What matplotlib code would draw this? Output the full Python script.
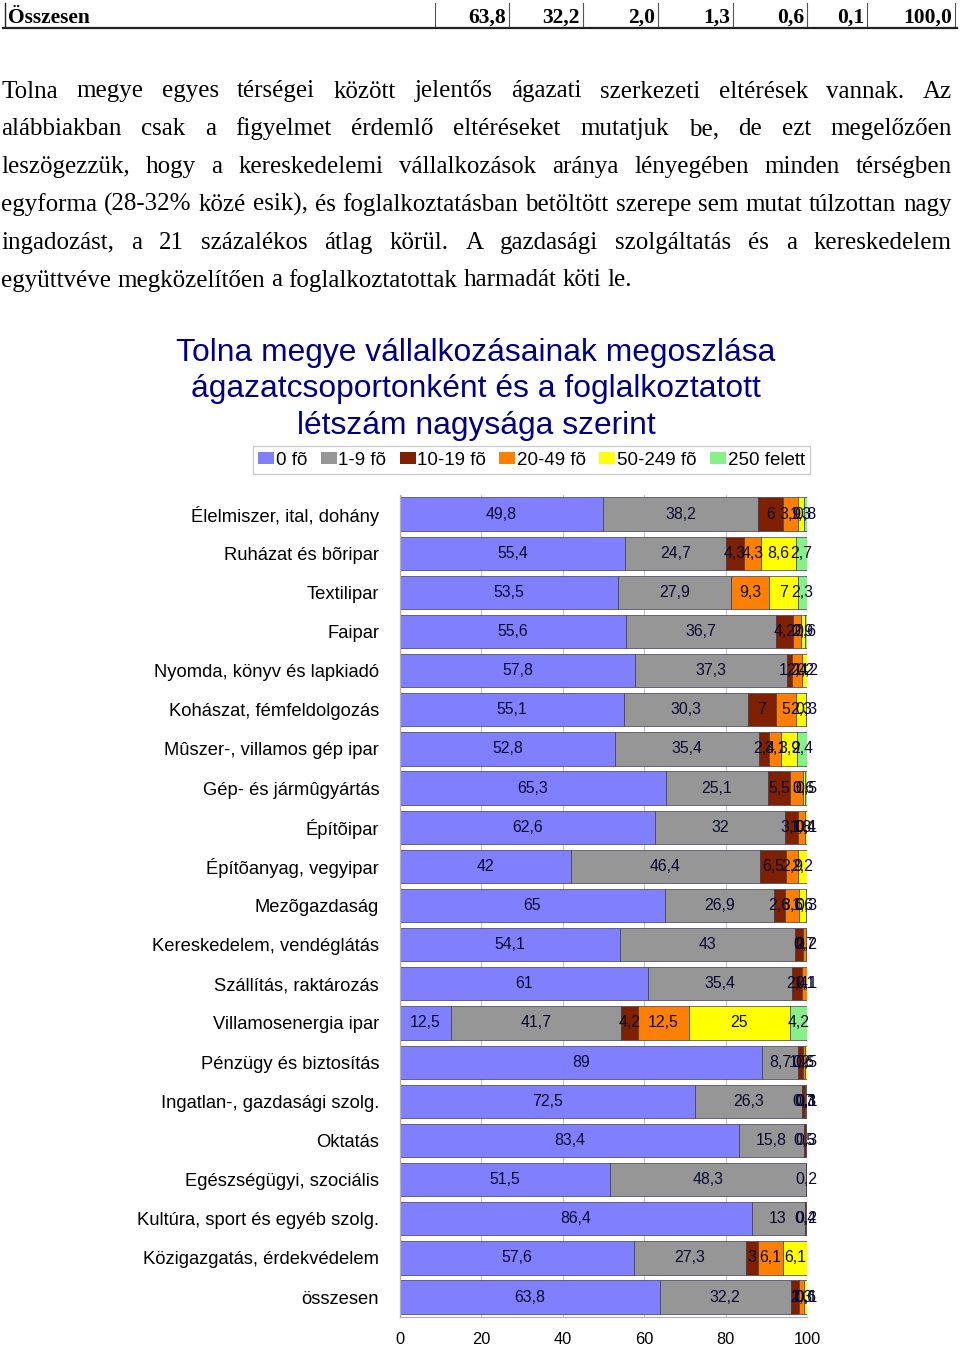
import matplotlib
matplotlib.use('Agg')
import matplotlib.pyplot as plt
from matplotlib.lines import Line2D
from matplotlib.patches import Patch
import numpy as np

# ---------------- data ----------------
categories = [
    "Élelmiszer, ital, dohány", "Ruházat és bõripar", "Textilipar", "Faipar",
    "Nyomda, könyv és lapkiadó", "Kohászat, fémfeldolgozás",
    "Mûszer-, villamos gép ipar", "Gép- és jármûgyártás", "Építõipar",
    "Építõanyag, vegyipar", "Mezõgazdaság", "Kereskedelem, vendéglátás",
    "Szállítás, raktározás", "Villamosenergia ipar", "Pénzügy és biztosítás",
    "Ingatlan-, gazdasági szolg.", "Oktatás", "Egészségügyi, szociális",
    "Kultúra, sport és egyéb szolg.", "Közigazgatás, érdekvédelem", "összesen",
]
series_names = ["0 fõ", "1-9 fõ", "10-19 fõ", "20-49 fõ", "50-249 fõ", "250 felett"]
s_0 = [49.8, 55.4, 53.5, 55.6, 57.8, 55.1, 52.8, 65.3, 62.6, 42, 65, 54.1, 61, 12.5, 89, 72.5, 83.4, 51.5, 86.4, 57.6, 63.8]
s_1_9 = [38.2, 24.7, 27.9, 36.7, 37.3, 30.3, 35.4, 25.1, 32, 46.4, 26.9, 43, 35.4, 41.7, 8.7, 26.3, 15.8, 48.3, 13, 27.3, 32.2]
s_10_19 = [6, 4.3, 0, 4.2, 1.2, 7, 2.4, 5.5, 3.1, 6.5, 2.6, 2.0, 2.4, 4.2, 1.2, 0.7, 0.5, 0.2, 0.4, 3, 2.0]
s_20_49 = [3.9, 4.3, 9.3, 2.0, 2.4, 5, 3.1, 3.0, 1.8, 2.9, 3.6, 0.7, 1.1, 12.5, 0.6, 0.3, 0.3, 0, 0.2, 6.1, 1.3]
s_50_249 = [1.3, 8.6, 7, 0.9, 1.2, 2.3, 3.9, 0.6, 0.4, 2.2, 1.6, 0.2, 0.1, 25, 0.5, 0.1, 0, 0, 0, 6.1, 0.6]
s_250 = [0.8, 2.7, 2.3, 0.6, 0.2, 0.3, 2.4, 0.5, 0.1, 0, 0.3, 0, 0, 4.2, 0, 0.1, 0, 0, 0, 0, 0.1]
x_ticks = [0, 20, 40, 60, 80, 100]

table_label = "Összesen"
table_values = ["63,8", "32,2", "2,0", "1,3", "0,6", "0,1", "100,0"]

paragraph_lines = [
    "Tolna megye egyes térségei között jelentős ágazati szerkezeti eltérések vannak. Az",
    "alábbiakban csak a figyelmet érdemlő eltéréseket mutatjuk be, de ezt megelőzően",
    "leszögezzük, hogy a kereskedelemi vállalkozások aránya lényegében minden térségben",
    "egyforma (28-32% közé esik), és foglalkoztatásban betöltött szerepe sem mutat túlzottan nagy",
    "ingadozást, a 21 százalékos átlag körül. A gazdasági szolgáltatás és a kereskedelem",
    "együttvéve megközelítően a foglalkoztatottak harmadát köti le.",
]

title_lines = [
    "Tolna megye vállalkozásainak megoszlása",
    "ágazatcsoportonként és a foglalkoztatott",
    "létszám nagysága szerint",
]

colors = ["#8080FF", "#969696", "#7F2000", "#FF8000", "#FFFF00", "#88F088"]

# ---------------- figure ----------------
W, H = 960, 1347
fig = plt.figure(figsize=(W / 100, H / 100), dpi=100)
fig.patch.set_facecolor("white")


def fx(x):
    return x / W


def fy(y):
    return 1 - y / H


SANS = "Liberation Sans"
SERIF = "Liberation Serif"

# ---- top table row ----
fig.add_artist(Line2D([fx(5), fx(5)], [fy(3), fy(27)], color="#222222", lw=1.0))
seps = [435, 509, 583, 658, 733, 807, 867, 955]
for x in seps:
    fig.add_artist(Line2D([fx(x), fx(x)], [fy(3), fy(27)], color="#555555", lw=0.8))
fig.add_artist(Line2D([fx(3), fx(957)], [fy(27.5), fy(27.5)], color="#222222", lw=1.6))
fig.text(fx(8), fy(23), table_label, family=SERIF, weight="bold", fontsize=15.5,
         ha="left", va="baseline")
for x, v in zip(seps[1:], table_values):
    fig.text(fx(x - 3), fy(23), v, family=SERIF, weight="bold", fontsize=15.5,
             ha="right", va="baseline")

# ---- justified paragraph ----
renderer = fig.canvas.get_renderer()
para_fs = 18.0
baselines = [97.5, 135.3, 173.1, 210.9, 248.7, 286.5]
left_px, right_px = 1, 952
for li, (line, yb) in enumerate(zip(paragraph_lines, baselines)):
    words = line.split(" ")
    texts = []
    widths = []
    for w in words:
        t = fig.text(0, fy(yb), w, family=SERIF, fontsize=para_fs, ha="left", va="baseline")
        bb = t.get_window_extent(renderer=renderer)
        texts.append(t)
        widths.append(bb.width)
    if li == len(paragraph_lines) - 1:
        sp = fig.text(0, 0, "a a", family=SERIF, fontsize=para_fs)
        sp2 = fig.text(0, 0, "aa", family=SERIF, fontsize=para_fs)
        gap = sp.get_window_extent(renderer=renderer).width - sp2.get_window_extent(renderer=renderer).width
        sp.remove(); sp2.remove()
    else:
        gap = (right_px - left_px - sum(widths)) / (len(words) - 1)
    x = left_px
    for t, w in zip(texts, widths):
        t.set_x(fx(x))
        x += w + gap

# ---- title ----
title_baselines = [361, 397.5, 434]
for line, yb in zip(title_lines, title_baselines):
    fig.text(fx(476), fy(yb), line, family=SANS, fontsize=22.9, color="#000080",
             ha="center", va="baseline")

# ---- chart ----
ax_top, ax_bot = 494.5, 1316.6
ax = fig.add_axes([fx(400), fy(ax_bot), (807 - 400) / W, (ax_bot - ax_top) / H])
n = len(categories)
ypos = np.arange(n)
series = [s_0, s_1_9, s_10_19, s_20_49, s_50_249, s_250]
left = np.zeros(n)
handles = []


def fmt(v):
    s = f"{v:.1f}"
    if s.endswith(".0"):
        s = s[:-2]
    return s.replace(".", ",")


for name, vals, c in zip(series_names, series, colors):
    vals = np.array(vals, dtype=float)
    ax.barh(ypos, vals, left=left, height=0.85, color=c, edgecolor="#3a3a5a",
            linewidth=0.5, zorder=2, label=name)
    for i in range(n):
        if vals[i] > 0:
            ax.text(left[i] + vals[i] / 2, ypos[i], fmt(vals[i]), ha="center", va="center",
                    family=SANS, fontsize=11.4, color="#0a0a30", zorder=3, clip_on=False)
    left = left + vals
    handles.append(Patch(facecolor=c, edgecolor="none", label=name))

ax.set_xlim(0, 100)
ax.set_ylim(n - 0.5, -0.5)
ax.set_xticks(x_ticks)
ax.set_xticklabels([str(t) for t in x_ticks], family=SANS, fontsize=11.8)
ax.set_yticks(ypos)
ax.set_yticklabels(categories, family=SANS, fontsize=13.2)
ax.tick_params(axis="y", length=0, pad=15)
ax.tick_params(axis="x", length=0, pad=10.8)
ax.set_axisbelow(True)
ax.xaxis.grid(True, color="#c8c8c8", lw=0.9, zorder=0)
for s in ["top", "right"]:
    ax.spines[s].set_visible(False)
for s in ["bottom", "left"]:
    ax.spines[s].set_color("#b0b0b0")
    ax.spines[s].set_linewidth(0.9)

leg = fig.legend(handles=handles, loc="center", bbox_to_anchor=(fx(531.5), fy(460)),
                 ncol=6, frameon=True, fancybox=False, prop={"family": SANS, "size": 13.5},
                 handlelength=0.85, handleheight=0.6, handletextpad=0.1, columnspacing=0.7,
                 borderpad=0.3, borderaxespad=0)
leg.get_frame().set_edgecolor("#c0c0c0")
leg.get_frame().set_linewidth(0.9)

fig.savefig("out.png", dpi=100)
